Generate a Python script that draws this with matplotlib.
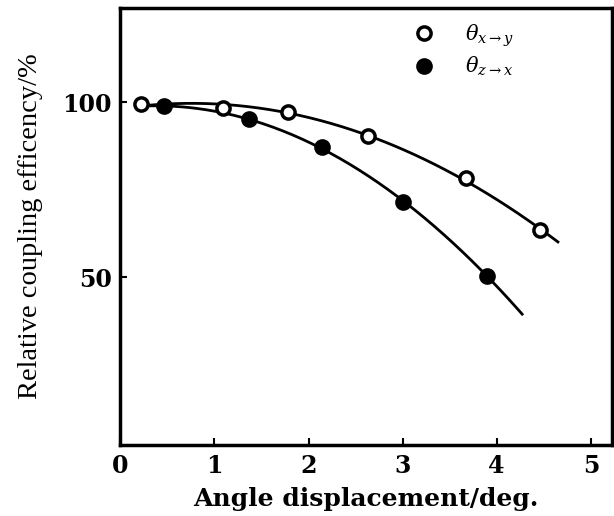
import numpy as np
import matplotlib
matplotlib.use("Agg")
import matplotlib.pyplot as plt

# open circles: theta x->y
x_open = [0.22, 1.09, 1.78, 2.63, 3.67, 4.46]
y_open = [99.4, 98.5, 97.2, 90.4, 78.3, 63.4]
# filled circles: theta z->x
x_fill = [0.46, 1.37, 2.14, 3.00, 3.90]
y_fill = [98.9, 95.1, 87.1, 71.5, 50.4]

# extent of the fitted curves
open_span = (0.25, 4.65)
fill_span = (0.25, 4.27)

x_ticks = [0, 1, 2, 3, 4, 5]
y_ticks = [50, 100]
labels = [r"$\theta_{x\rightarrow y}$", r"$\theta_{z\rightarrow x}$"]

plt.rcParams["font.family"] = "DejaVu Serif"
plt.rcParams["mathtext.fontset"] = "dejavuserif"

fig = plt.figure(figsize=(6.14, 5.16), dpi=100)
ax = fig.add_axes([0.196, 0.137, 0.80, 0.848])

# trend curves fitted to the marker data
for xs, ys, span in [(x_open, y_open, open_span), (x_fill, y_fill, fill_span)]:
    coef = np.polyfit(xs, ys, 2)
    xx = np.linspace(span[0], span[1], 200)
    ax.plot(xx, np.polyval(coef, xx), color="black", lw=2, zorder=2)

ax.plot(x_open, y_open, "o", ms=9.5, mfc="white", mec="black", mew=2.5,
        ls="none", zorder=3, label=labels[0])
ax.plot(x_fill, y_fill, "o", ms=9.5, mfc="black", mec="black", mew=2.5,
        ls="none", zorder=3, label=labels[1])

ax.set_xlim(0.1, 5.22)
ax.set_ylim(2, 127)
ax.set_xticks(x_ticks)
ax.set_yticks(y_ticks)
ax.tick_params(direction="in", length=5, width=1.5, labelsize=17, pad=6)
for lbl in ax.get_xticklabels() + ax.get_yticklabels():
    lbl.set_fontweight("bold")
for sp in ax.spines.values():
    sp.set_linewidth(2.5)

ax.set_xlabel("Angle displacement/deg.", fontsize=18, fontweight="bold", labelpad=7)
ax.set_ylabel("Relative coupling efficency/%", fontsize=20.5,
              family="Liberation Serif", labelpad=14)

leg = ax.legend(loc="upper right", bbox_to_anchor=(0.84, 1.01), frameon=False,
                fontsize=15, handletextpad=1.0, labelspacing=0.3)

fig.savefig("out.png", dpi=100)
